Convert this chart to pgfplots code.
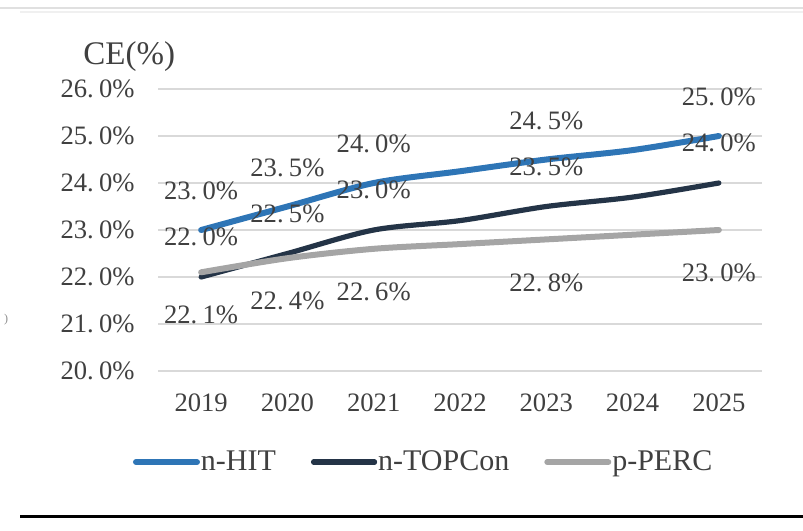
\documentclass[border=0pt]{standalone}
\usepackage{pgfplots}
\pgfplotsset{compat=1.18}
\usepackage{fontspec}
\setmainfont{Liberation Serif}

\definecolor{hit}{HTML}{2E75B6}
\definecolor{topcon}{HTML}{243447}
\definecolor{perc}{HTML}{A5A5A5}
\definecolor{txt}{HTML}{404040}
\definecolor{gridc}{HTML}{D9D9D9}

% "23. 0%" style labels
\newcommand{\pc}[2]{#1.\hspace{0.2em}#2\%}
\newcommand{\lblfont}{\fontsize{13.3}{15}\selectfont}

\begin{document}
\begin{tikzpicture}
\useasboundingbox (0,0) rectangle (401.5pt,265pt);

% frame lines of the clipped figure
\draw[black!12, line width=0.6pt] (0,261pt) -- (401.5pt,261pt);
\draw[black!6, line width=0.6pt] (10pt,259pt) -- (401.5pt,259pt);
\draw[black, line width=1.5pt] (10pt,6.5pt) -- (401.5pt,6.5pt);
\node[text=txt, font=\fontsize{16.5}{18}\selectfont, anchor=base west, inner sep=0pt]
  at (41.5pt,232.5pt) {CE(\%)};
\node[text=black!45, font=\fontsize{6}{7}\selectfont, inner sep=0pt] at (3pt,105pt) {)};

\begin{axis}[
    at={(79pt,79.5pt)}, anchor=south west,
    scale only axis,
    width=302pt, height=141pt,
    xmin=-0.5, xmax=6.5,
    ymin=20, ymax=26,
    axis line style={draw=none},
    major tick length=0pt,
    xtick={0,1,2,3,4,5,6},
    xticklabels={2019,2020,2021,2022,2023,2024,2025},
    ytick={20,21,22,23,24,25,26},
    yticklabels={\pc{20}{0},\pc{21}{0},\pc{22}{0},\pc{23}{0},\pc{24}{0},\pc{25}{0},\pc{26}{0}},
    xticklabel style={font=\lblfont, text=txt, inner sep=0pt, anchor=north, yshift=-11pt},
    yticklabel style={font=\lblfont, text=txt, inner sep=0pt, anchor=east, xshift=-11.5pt},
    ymajorgrids,
    grid style={gridc, line width=1pt},
    clip=false,
    legend columns=3,
    legend style={at={(0.439,-0.323)}, anchor=center, draw=none, fill=none,
        font=\fontsize{15}{17}\selectfont, text=txt,
        nodes={inner sep=0.5pt}, cells={anchor=west},
        /tikz/every even column/.append style={column sep=17pt}},
    legend image code/.code={\draw[#1, line cap=round] (1.5pt,0pt) -- (32pt,0pt);},
    every axis plot/.append style={line cap=round, line join=round},
]

\addplot[hit, line width=3pt, smooth, tension=0.5] coordinates {
  (0,23.0) (1,23.5) (2,24.0) (3,24.25) (4,24.5) (5,24.7) (6,25.0)};
\addlegendentry{n-HIT}
\addplot[topcon, line width=2.6pt, smooth, tension=0.5] coordinates {
  (0,22.0) (1,22.5) (2,23.0) (3,23.2) (4,23.5) (5,23.7) (6,24.0)};
\addlegendentry{n-TOPCon}
\addplot[perc, line width=3pt, smooth, tension=0.5] coordinates {
  (0,22.1) (1,22.4) (2,22.6) (3,22.7) (4,22.8) (5,22.9) (6,23.0)};
\addlegendentry{p-PERC}

% data labels
\addplot[draw=none, mark=none, forget plot, point meta=explicit symbolic,
  nodes near coords,
  nodes near coords style={font=\lblfont, text=txt, anchor=center, inner sep=0pt, yshift=19.5pt}]
  coordinates {(0,23.0)[\pc{23}{0}] (1,23.5)[\pc{23}{5}] (2,24.0)[\pc{24}{0}]
               (4,24.5)[\pc{24}{5}] (6,25.0)[\pc{25}{0}]};
\addplot[draw=none, mark=none, forget plot, point meta=explicit symbolic,
  nodes near coords,
  nodes near coords style={font=\lblfont, text=txt, anchor=center, inner sep=0pt, yshift=20pt}]
  coordinates {(0,22.0)[\pc{22}{0}] (1,22.5)[\pc{22}{5}] (2,23.0)[\pc{23}{0}]
               (4,23.5)[\pc{23}{5}] (6,24.0)[\pc{24}{0}]};
\addplot[draw=none, mark=none, forget plot, point meta=explicit symbolic,
  nodes near coords,
  nodes near coords style={font=\lblfont, text=txt, anchor=center, inner sep=0pt, yshift=-21.5pt}]
  coordinates {(0,22.1)[\pc{22}{1}] (1,22.4)[\pc{22}{4}] (2,22.6)[\pc{22}{6}]
               (4,22.8)[\pc{22}{8}] (6,23.0)[\pc{23}{0}]};

\end{axis}
\end{tikzpicture}
\end{document}
